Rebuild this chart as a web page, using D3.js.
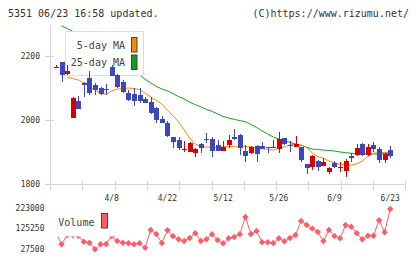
<!DOCTYPE html>
<html><head><meta charset="utf-8">
<script src="https://cdn.jsdelivr.net/npm/d3@7"></script>
<style>body{margin:0;background:#fff;}svg{display:block;}</style>
</head><body>
<svg id="c" width="420" height="259"></svg>
<script>
const dates = ["3/25","3/28","3/29","3/30","3/31","4/1","4/4","4/5","4/6","4/7",
"4/8","4/11","4/12","4/13","4/14","4/15","4/18","4/19","4/20","4/21",
"4/22","4/25","4/26","4/27","4/28","5/2","5/6","5/9","5/10","5/11",
"5/12","5/13","5/16","5/17","5/18","5/19","5/20","5/23","5/24","5/25",
"5/26","5/27","5/30","5/31","6/1","6/2","6/3","6/6","6/7","6/8",
"6/9","6/10","6/13","6/14","6/15","6/16","6/17","6/20","6/21","6/22","6/23"];
const opens  = [2166,2180,2144,2007,2060,2117,2132,2109,2101,2097,2167,2141,2120,2083,2080,2078,2066,2057,2037,2002,1992,1946,1938,1907,1901,1898,1925,1941,1941,1922,1904,1922,1948,1953,1904,1896,1919,1919,1916,1914,1909,1943,1922,1917,1915,1862,1852,1872,1857,1839,1867,1851,1842,1888,1891,1925,1891,1922,1908,1875,1906];
const highs  = [2172,2180,2172,2072,2076,2120,2154,2115,2103,2112,2172,2145,2125,2094,2099,2099,2071,2073,2040,2012,1998,1948,1948,1934,1930,1911,1927,1958,1948,1938,1934,1953,1971,1955,1922,1920,1922,1930,1917,1938,1962,1945,1934,1950,1917,1864,1890,1874,1882,1854,1872,1870,1878,1896,1924,1927,1925,1930,1917,1896,1919];
const lows   = [2163,2120,2141,2005,2033,2071,2078,2078,2078,2078,2136,2100,2085,2060,2044,2054,2052,2019,1990,1990,1946,1912,1906,1901,1899,1883,1898,1929,1885,1902,1902,1912,1938,1891,1868,1894,1868,1908,1896,1913,1898,1922,1901,1916,1870,1830,1844,1841,1855,1830,1850,1839,1823,1870,1889,1886,1889,1901,1867,1865,1880];
const closes = [2167,2142,2152,2070,2035,2108,2083,2094,2080,2096,2138,2104,2088,2063,2060,2060,2054,2023,2000,1992,1950,1932,1912,1908,1927,1909,1913,1940,1904,1904,1915,1938,1940,1912,1888,1917,1894,1910,1915,1915,1940,1924,1921,1924,1875,1851,1888,1852,1870,1849,1852,1852,1872,1880,1911,1891,1915,1908,1875,1894,1888];
const ma5 = [null,null,2133,2130,2125,2116,2105,2094,2083,2080,2091,2097,2098,2100,2098,2095,2084,2072,2061,2050,2031,2013,1994,1969,1944,1925,1917,1916,1914,1914,1916,1917,1917,1919,1917,1916,1914,1911,1908,1906,1911,1916,1922,1924,1922,1914,1897,1886,1880,1872,1866,1862,1859,1859,1863,1872,1886,1896,1898,1898,1900];
const ma25 = [null,2294,2286,2277,2266,2255,2244,2233,2222,2211,2200,2189,2178,2166,2153,2141,2127,2116,2105,2097,2091,2083,2073,2066,2056,2048,2041,2033,2027,2019,2011,2006,2002,1998,1995,1986,1977,1966,1956,1947,1941,1936,1930,1925,1921,1915,1909,1908,1906,1905,1903,1900,1898,1896,1895,1895,1894,1894,1894,1895,1896];
const volumes = [105000,50100,93000,94000,91000,62600,57800,26100,50100,51600,90100,66000,57800,54900,50100,54900,33800,119000,99700,56400,117500,90100,74200,66000,80500,103100,66000,74200,98300,70800,54900,79000,85300,98800,181600,99700,114200,59800,59800,56400,79000,64600,80500,94900,162300,143100,125700,109400,66000,119000,90100,79000,143100,134900,103100,74700,91100,91100,165700,107900,220100];
const priceTicks = [1800,2000,2200];
const volumeTicks = [27500,125250,223000];
const dateLabels = ["4/8","4/22","5/12","5/26","6/9","6/23"];
const seriesNames = ["5-day MA","25-day MA"];
const volumeName = "Volume";
const titleText = "5351 06/23 16:58 updated.";
const creditText = "(C)https://www.rizumu.net/";

const RED="#d90000", BLUE="#3d46bd", ORANGE="#f28c00", GREEN="#14a01e", VOL="#ff5c66", AXIS="#d4d4d4", TXT="#333";
const FONT="'DejaVu Sans Mono', monospace";

const svg = d3.select("#c");
const x = d3.scalePoint().domain(dates).range([56, 390.2]);
const y = d3.scaleLinear().domain([1800,2200]).range([184,56]);
const yv = d3.scaleLinear().domain([27500,223000]).range([249,208.4]);
const gridX = d3.scaleLinear().domain([0,11]).range([50,405.3]);

// header
svg.append("text").attr("x",8).attr("y",16.5).attr("font-family",FONT).attr("font-size",10).attr("fill",TXT).text(titleText);
svg.append("text").attr("x",409).attr("y",16.5).attr("text-anchor","end").attr("font-family",FONT).attr("font-size",10).attr("fill",TXT).text(creditText);

// axes
const ax = svg.append("g").attr("stroke",AXIS).attr("stroke-width",1).attr("shape-rendering","crispEdges");
ax.append("line").attr("x1",50.5).attr("x2",50.5).attr("y1",25).attr("y2",190);
ax.append("line").attr("x1",45).attr("x2",406).attr("y1",184.5).attr("y2",184.5);
priceTicks.forEach(t=>ax.append("line").attr("x1",45).attr("x2",54).attr("y1",Math.round(y(t))+0.5).attr("y2",Math.round(y(t))+0.5));
d3.range(1,12).forEach(k=>ax.append("line").attr("x1",Math.round(gridX(k))+0.5).attr("x2",Math.round(gridX(k))+0.5).attr("y1",181).attr("y2",190));

svg.append("g").selectAll("text").data(priceTicks).join("text")
  .attr("x",40).attr("y",d=>y(d)).attr("dy","0.36em").attr("text-anchor","end")
  .attr("font-family",FONT).attr("font-size",8).attr("fill",TXT).text(d=>d);
svg.append("g").selectAll("text").data(volumeTicks).join("text")
  .attr("x",44.5).attr("y",d=>yv(d)).attr("dy","0.33em").attr("text-anchor","end")
  .attr("font-family",FONT).attr("font-size",8).attr("fill",TXT).text(d=>d);
svg.append("g").selectAll("text").data(dateLabels).join("text")
  .attr("x",d=>x(d)).attr("y",201).attr("text-anchor","middle")
  .attr("font-family",FONT).attr("font-size",8).attr("fill",TXT).text(d=>d);

// moving averages
const line = d3.line().defined(d=>d[1]!=null).x(d=>x(d[0])).y(d=>y(d[1]));
svg.append("path").datum(dates.map((d,i)=>[d,ma25[i]])).attr("d",line).attr("fill","none").attr("stroke",GREEN).attr("stroke-width",1);
svg.append("path").datum(dates.map((d,i)=>[d,ma5[i]])).attr("d",line).attr("fill","none").attr("stroke",ORANGE).attr("stroke-width",1);

// legend box (price)
svg.append("rect").attr("x",65.5).attr("y",31.5).attr("width",78).attr("height",44).attr("fill","#fff").attr("stroke","#dcdcdc");

// candles
const cg = svg.append("g").attr("shape-rendering","crispEdges");
dates.forEach((d,i)=>{
  const cx = Math.round(x(d));
  const col = closes[i] >= opens[i] ? RED : BLUE;
  cg.append("line").attr("x1",cx+0.5).attr("x2",cx+0.5).attr("y1",y(highs[i])).attr("y2",y(lows[i])).attr("stroke",col);
  const top = y(Math.max(opens[i],closes[i])), bot = y(Math.min(opens[i],closes[i]));
  cg.append("rect").attr("x",cx-2).attr("y",top).attr("width",5).attr("height",Math.max(1,bot-top)).attr("fill",col);
});

// legend content (price)
const lg = svg.append("g").attr("font-family",FONT).attr("font-size",10).attr("fill","#444");
lg.append("text").attr("x",125).attr("y",49).attr("text-anchor","end").text(seriesNames[0]);
lg.append("text").attr("x",125).attr("y",65.7).attr("text-anchor","end").text(seriesNames[1]);
svg.append("rect").attr("x",131.5).attr("y",37.5).attr("width",5.5).attr("height",14.5).attr("fill",ORANGE).attr("stroke","#444");
svg.append("rect").attr("x",131.5).attr("y",55).attr("width",5.5).attr("height",14.5).attr("fill",GREEN).attr("stroke","#444");

// volume
const vline = d3.line().x((d,i)=>x(dates[i])).y(d=>yv(d));
svg.append("path").datum(volumes).attr("d",vline).attr("fill","none").attr("stroke",VOL).attr("stroke-width",1);
const r=3.2;
svg.append("g").selectAll("path").data(volumes).join("path")
  .attr("d",(d,i)=>{const cx=x(dates[i]),cy=yv(d);return `M${cx},${cy-r}L${cx+r},${cy}L${cx},${cy+r}L${cx-r},${cy}Z`;})
  .attr("fill",VOL);
svg.append("rect").attr("x",52).attr("y",206).attr("width",62).attr("height",30.5).attr("fill","#fff");
svg.append("text").attr("x",58.3).attr("y",226).attr("font-family",FONT).attr("font-size",10).attr("fill","#444").text(volumeName);
svg.append("rect").attr("x",101.5).attr("y",213.5).attr("width",6).attr("height",14.5).attr("fill",VOL).attr("stroke","#444");
</script>
</body></html>
